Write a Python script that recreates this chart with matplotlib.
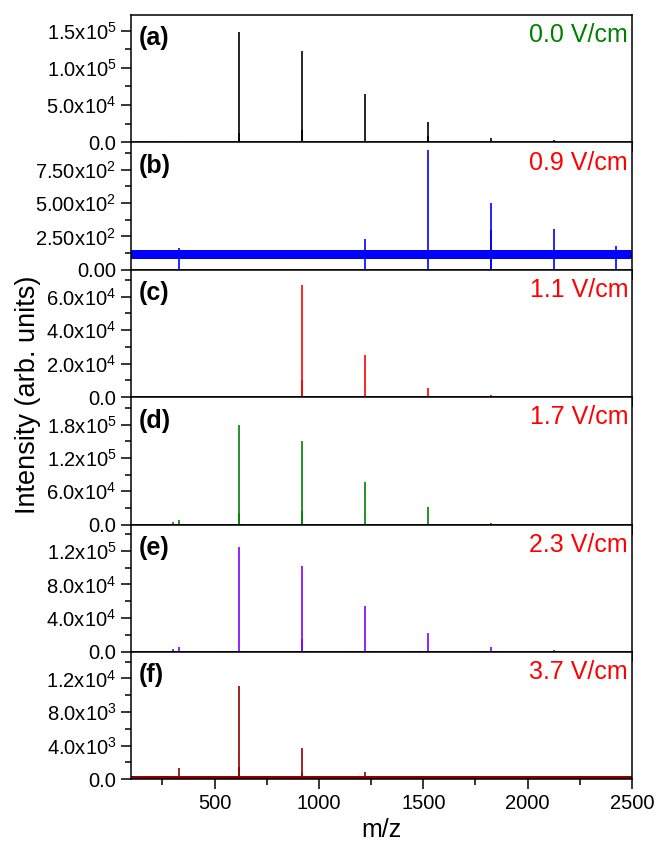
import matplotlib
matplotlib.use('Agg')
import matplotlib.pyplot as plt
from matplotlib.ticker import FixedLocator, MultipleLocator, AutoMinorLocator, FuncFormatter

plt.rcParams['font.family'] = ['Liberation Sans', 'DejaVu Sans']
plt.rcParams['mathtext.default'] = 'regular'

# peak positions (m/z) and heights for each field strength
panel_tags = ['(a)', '(b)', '(c)', '(d)', '(e)', '(f)']
fields = ['0.0 V/cm', '0.9 V/cm', '1.1 V/cm', '1.7 V/cm', '2.3 V/cm', '3.7 V/cm']
field_colors = ['green', 'red', 'red', 'red', 'red', 'red']
line_colors = ['black', 'blue', 'red', 'green', '#8000ff', '#8b0000']

mz_a = [317, 618, 619, 920, 921, 1221, 1522, 1523, 1823, 2124, 2425]
int_a = [2.0e3, 1.48e5, 1.2e4, 1.22e5, 1.6e4, 6.45e4, 2.7e4, 8.0e3, 6.2e3, 3.0e3, 1.5e3]

mz_b = [330, 1221, 1522, 1823, 1824, 2124, 2425]
int_b = [160, 228, 900, 500, 300, 303, 175]

mz_c = [920, 921, 1221, 1522, 1823]
int_c = [6.7e4, 1.0e4, 2.5e4, 5.4e3, 1.2e3]

mz_d = [300, 330, 618, 619, 920, 921, 1221, 1522, 1823, 2124]
int_d = [4.0e3, 7.7e3, 1.79e5, 2.0e4, 1.51e5, 2.5e4, 7.75e4, 3.2e4, 3.0e3, 1.5e3]

mz_e = [300, 330, 618, 920, 921, 1221, 1522, 1823, 2124, 2425]
int_e = [3.0e3, 5.9e3, 1.246e5, 1.022e5, 1.5e4, 5.46e4, 2.24e4, 5.4e3, 2.5e3, 1.5e3]

mz_f = [330, 618, 619, 920, 921, 1221]
int_f = [1.31e3, 1.11e4, 1.5e3, 3.69e3, 800, 900]

# baseline band (low, high) for each spectrum
base_lo = [0, 80, 0, 0, 0, 0]
base_hi = [300, 150, 600, 1200, 1000, 380]

# y axes: upper limit, major tick values, decimals of the mantissa
y_top = [1.71e5, 955, 7.6e4, 2.3e5, 1.51e5, 1.515e4]
y_ticks = [[0, 5e4, 1e5, 1.5e5],
           [0, 250, 500, 750],
           [0, 2e4, 4e4, 6e4],
           [0, 6e4, 1.2e5, 1.8e5],
           [0, 4e4, 8e4, 1.2e5],
           [0, 4e3, 8e3, 1.2e4]]
y_dec = [1, 2, 1, 1, 1, 1]

spectra = [(mz_a, int_a), (mz_b, int_b), (mz_c, int_c),
           (mz_d, int_d), (mz_e, int_e), (mz_f, int_f)]


def sci_fmt(dec):
    def f(v, pos):
        if v == 0:
            return '0.' + '0' * dec
        e = 0
        m = abs(v)
        while m >= 10:
            m /= 10.0
            e += 1
        return '%.*fx10$^{%d}$' % (dec, m, e)
    return f


fig, axes = plt.subplots(6, 1, figsize=(6.57, 8.41), dpi=100, sharex=True)
fig.subplots_adjust(left=0.1994, right=0.962, top=0.9822, bottom=0.0734, hspace=0)

for i, ax in enumerate(axes):
    mz, inten = spectra[i]
    ax.fill_between([100, 2500], base_lo[i], base_hi[i], color=line_colors[i], lw=0)
    ax.vlines(mz, 0, inten, color=line_colors[i], lw=1.2)
    ax.set_xlim(100, 2500)
    ax.set_ylim(0, y_top[i])
    ax.yaxis.set_major_locator(FixedLocator(y_ticks[i]))
    ax.yaxis.set_minor_locator(AutoMinorLocator(2))
    ax.yaxis.set_major_formatter(FuncFormatter(sci_fmt(y_dec[i])))
    ax.xaxis.set_major_locator(MultipleLocator(500))
    ax.xaxis.set_minor_locator(MultipleLocator(250))
    ax.tick_params(axis='both', which='major', direction='out', length=7, width=1.1, labelsize=14.5)
    ax.tick_params(axis='both', which='minor', direction='out', length=4, width=1.1)
    ax.tick_params(axis='x', which='both', top=False)
    for sp in ax.spines.values():
        sp.set_linewidth(1.1)
        sp.set_zorder(5)
    ax.text(0.016, 0.91, panel_tags[i], transform=ax.transAxes, fontsize=18,
            fontweight='bold', ha='left', va='top')
    ax.text(0.992, 0.935, fields[i], transform=ax.transAxes, fontsize=18,
            color=field_colors[i], ha='right', va='top')

axes[-1].set_xlabel('m/z', fontsize=18, labelpad=4)
fig.text(0.042, 0.53, 'Intensity (arb. units)', rotation=90, fontsize=19.5,
         ha='center', va='center')

fig.savefig('out.png', dpi=100)
